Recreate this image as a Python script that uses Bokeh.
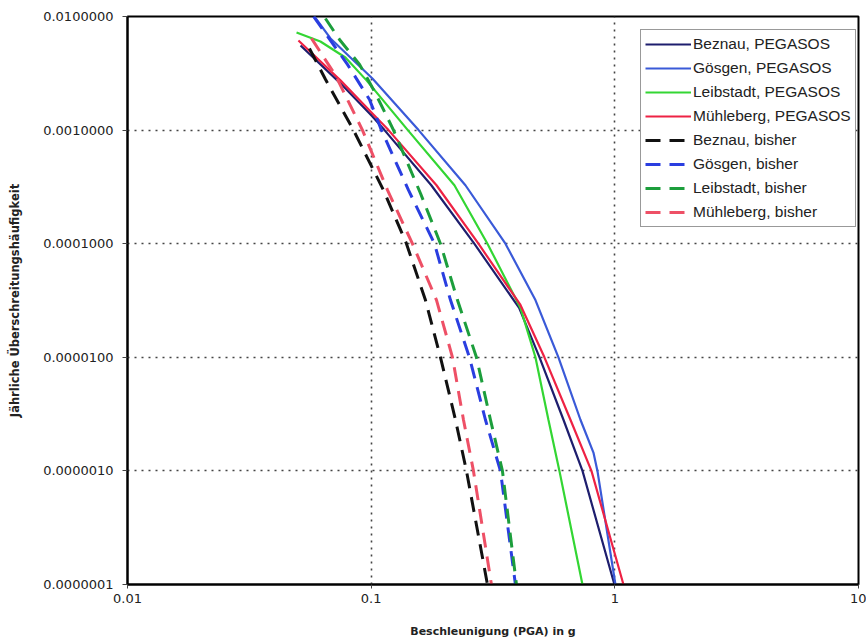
from bokeh.plotting import figure
from bokeh.models import FixedTicker, CustomJSTickFormatter, Legend
from bokeh.embed import file_html
from bokeh.resources import INLINE

# ---- data (PGA in g, annual exceedance frequency) ----
beznau_peg_pga = [0.0513, 0.0748, 0.1012, 0.1134, 0.1765, 0.2650, 0.4048, 0.4908, 0.6154, 0.7367, 0.9962]
beznau_peg_freq = [5.56e-3, 2.58e-3, 1.32e-3, 1.0e-3, 3.27e-4, 1.0e-4, 2.72e-5, 1.0e-5, 2.82e-6, 1.0e-6, 1.0e-7]

goesgen_peg_pga = [0.0585, 0.0681, 0.0822, 0.1012, 0.1565, 0.2437, 0.3557, 0.4722, 0.5869, 0.7226, 0.8170, 0.8484, 1.0057]
goesgen_peg_freq = [1.0e-2, 6.41e-3, 4.36e-3, 2.85e-3, 1.0e-3, 3.27e-4, 1.0e-4, 3.19e-5, 1.0e-5, 2.82e-6, 1.45e-6, 1.0e-6, 1.0e-7]

leibstadt_peg_pga = [0.0494, 0.0619, 0.0784, 0.0957, 0.1414, 0.2196, 0.3001, 0.4099, 0.4722, 0.5339, 0.5924, 0.7364]
leibstadt_peg_freq = [7.23e-3, 6.03e-3, 4.36e-3, 2.74e-3, 1.0e-3, 3.27e-4, 1.0e-4, 2.72e-5, 1.0e-5, 2.82e-6, 1.0e-6, 1.0e-7]

muehleberg_peg_pga = [0.0503, 0.0748, 0.1012, 0.1178, 0.1854, 0.2756, 0.4099, 0.5141, 0.6574, 0.8017, 1.0847]
muehleberg_peg_freq = [6.15e-3, 2.74e-3, 1.40e-3, 1.0e-3, 3.27e-4, 1.0e-4, 2.89e-5, 1.0e-5, 2.82e-6, 1.0e-6, 1.0e-7]

beznau_old_pga = [0.0558, 0.0649, 0.0846, 0.1123, 0.1396, 0.1670, 0.1925, 0.2218, 0.2461, 0.3001]
beznau_old_freq = [5.23e-3, 2.80e-3, 1.0e-3, 2.96e-4, 1.0e-4, 3.19e-5, 1.0e-5, 2.82e-6, 1.0e-6, 1.0e-7]

goesgen_old_pga = [0.0580, 0.0799, 0.0984, 0.1102, 0.1423, 0.1819, 0.2116, 0.2531, 0.2944, 0.3393, 0.3909]
goesgen_old_freq = [1.0e-2, 3.79e-3, 1.86e-3, 1.0e-3, 2.96e-4, 1.0e-4, 3.19e-5, 1.0e-5, 2.82e-6, 1.0e-6, 1.0e-7]

leibstadt_old_pga = [0.0649, 0.0741, 0.0896, 0.1032, 0.1235, 0.1593, 0.1925, 0.2260, 0.2704, 0.3087, 0.3457, 0.3947]
leibstadt_old_freq = [9.60e-3, 6.28e-3, 3.79e-3, 2.19e-3, 1.0e-3, 2.78e-4, 1.0e-4, 3.19e-5, 1.0e-5, 2.82e-6, 1.0e-6, 1.0e-7]

muehleberg_old_pga = [0.0569, 0.0714, 0.0921, 0.1167, 0.1477, 0.1854, 0.2156, 0.2392, 0.2629, 0.3116]
muehleberg_old_freq = [6.41e-3, 3.03e-3, 1.0e-3, 2.96e-4, 1.0e-4, 3.19e-5, 1.0e-5, 2.82e-6, 1.0e-6, 1.0e-7]

x_ticks = [0.01, 0.1, 1, 10]
y_ticks = [1e-7, 1e-6, 1e-5, 1e-4, 1e-3, 1e-2]

series = [
    ("Beznau, PEGASOS", beznau_peg_pga, beznau_peg_freq, "#1e1e6e", None),
    ("Gösgen, PEGASOS", goesgen_peg_pga, goesgen_peg_freq, "#3a5ad8", None),
    ("Leibstadt, PEGASOS", leibstadt_peg_pga, leibstadt_peg_freq, "#33d633", None),
    ("Mühleberg, PEGASOS", muehleberg_peg_pga, muehleberg_peg_freq, "#ee2244", None),
    ("Beznau, bisher", beznau_old_pga, beznau_old_freq, "#111111", "15 9"),
    ("Gösgen, bisher", goesgen_old_pga, goesgen_old_freq, "#2a3ee0", "15 9"),
    ("Leibstadt, bisher", leibstadt_old_pga, leibstadt_old_freq, "#1c9e3c", "15 9"),
    ("Mühleberg, bisher", muehleberg_old_pga, muehleberg_old_freq, "#ee5066", "15 9"),
]

FONT = "DejaVu Sans"

p = figure(
    x_axis_type="log", y_axis_type="log",
    x_range=(0.01, 10), y_range=(1e-7, 1e-2),
    width=866, height=640,
    min_border_left=127, min_border_right=8, min_border_top=16, min_border_bottom=55,
    output_backend="svg", toolbar_location=None,
    background_fill_color="white", border_fill_color="white",
)

renderers = []
for name, xs, ys, color, dash in series:
    if dash is None:
        r = p.line(xs, ys, line_color=color, line_width=2.2)
    else:
        r = p.line(xs, ys, line_color=color, line_width=3, line_dash=dash)
    renderers.append((name, [r]))

legend = Legend(items=renderers, location=(513, 357))
legend.label_text_font = "Liberation Sans"
legend.label_text_font_size = "15.5px"
legend.label_text_color = "#222222"
legend.glyph_width = 46
legend.glyph_height = 20
legend.label_height = 20
legend.label_standoff = 2
legend.spacing = 4
legend.padding = 4
legend.margin = 0
legend.border_line_color = "#333333"
legend.border_line_width = 1
legend.background_fill_color = "white"
legend.background_fill_alpha = 1
p.add_layout(legend)

# axes
p.xaxis.ticker = FixedTicker(ticks=x_ticks)
p.yaxis.ticker = FixedTicker(ticks=y_ticks)
p.xaxis.formatter = CustomJSTickFormatter(code="return String(Number(tick.toPrecision(3)));")
p.yaxis.formatter = CustomJSTickFormatter(code="return tick.toFixed(7);")

for ax in (p.xaxis[0], p.yaxis[0]):
    ax.axis_line_color = "black"
    ax.axis_line_width = 2
    ax.major_tick_line_color = "#444444"
    ax.minor_tick_line_color = None
    ax.major_tick_in = 0
    ax.major_label_text_font = FONT
    ax.major_label_text_font_size = "13px"
    ax.major_label_text_color = "#222222"
    ax.axis_label_text_font = FONT
    ax.axis_label_text_font_style = "bold"
    ax.axis_label_text_color = "#222222"

p.xaxis.major_tick_out = 4
p.xaxis.major_label_standoff = 5
p.xaxis.axis_label = "Beschleunigung (PGA) in g"
p.xaxis.axis_label_standoff = 19
p.xaxis.axis_label_text_font_size = "11px"

p.yaxis.major_tick_out = 5
p.yaxis.major_label_standoff = 9
p.yaxis.axis_label = "Jährliche Überschreitungshäufigkeit"
p.yaxis.axis_label_standoff = 18
p.yaxis.axis_label_text_font_size = "11.5px"

# grid
for g in (p.xgrid[0], p.ygrid[0]):
    g.grid_line_color = "#444444"
    g.grid_line_width = 1.6
    g.grid_line_dash = "2 5"
    g.minor_grid_line_color = None

p.outline_line_color = "black"
p.outline_line_width = 2
p.outline_line_alpha = 1

open("out.html", "w").write(file_html(p, INLINE))
